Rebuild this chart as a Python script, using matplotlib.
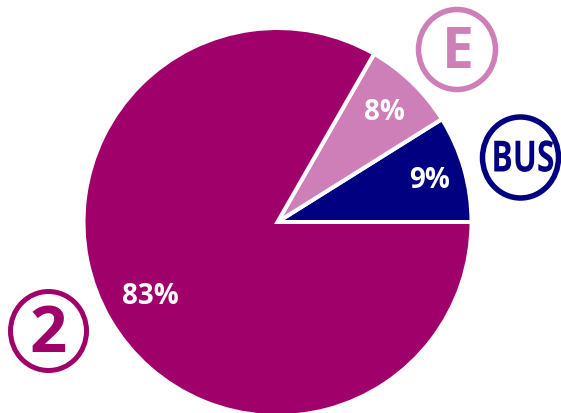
import matplotlib
matplotlib.use('Agg')
import matplotlib.pyplot as plt
from matplotlib.patches import Ellipse
from matplotlib.patheffects import AbstractPathEffect
from matplotlib.transforms import Affine2D

labels = ['BUS', 'E', '2']
shares = [8.9, 7.8, 83.3]
pct_labels = ['9%', '8%', '83%']
colors = ['#000080', '#CF7FB8', '#A0006A']

plt.rcParams['font.family'] = ['Open Sans', 'DejaVu Sans']

W, H = 561, 413
PX = 72 / 100  # points per pixel at dpi=100


class SqueezeX(AbstractPathEffect):
    # narrow the glyphs around a display x, no condensed font is installed
    def __init__(self, x0, factor):
        super().__init__()
        self.x0 = x0
        self.factor = factor

    def draw_path(self, renderer, gc, tpath, affine, rgbFace=None):
        squeeze = Affine2D().translate(-self.x0, 0).scale(self.factor, 1).translate(self.x0, 0)
        renderer.draw_path(gc, tpath, affine + squeeze, rgbFace)


fig = plt.figure(figsize=(W / 100, H / 100), dpi=100, facecolor='white')

# the pie sits underneath, overlay axes uses pixel coordinates
cx, cy, R = 277.5, 222, 194
pie_ax = fig.add_axes([(cx - R) / W, 1 - (cy + R) / H, 2 * R / W, 2 * R / H], zorder=1)
pie_ax.pie(shares, colors=colors, startangle=0, counterclock=True, radius=1,
           wedgeprops=dict(edgecolor='white', linewidth=4 * PX))
pie_ax.set_xlim(-1, 1)
pie_ax.set_ylim(-1, 1)

ax = fig.add_axes([0, 0, 1, 1], zorder=2)
ax.set_xlim(0, W)
ax.set_ylim(H, 0)
ax.axis('off')
ax.patch.set_alpha(0)

# percent labels
for (x, y), txt in zip([(429.5, 180), (384.5, 113), (150, 297)], pct_labels):
    ax.text(x, y, txt, color='white', fontsize=20, fontweight='bold',
            ha='center', va='center', zorder=5)

# round line badges: centre x, centre y, width, height, stroke px
badges = [(520.5, 157.5, 76, 81, 5.5, colors[0]),
          (457, 49.5, 77, 80, 5.5, colors[1]),
          (48.5, 331, 76, 79, 5, colors[2])]
for (bx, by, bw, bh, lw, col) in badges:
    ax.add_patch(Ellipse((bx, by), bw, bh, facecolor='white', edgecolor=col,
                         linewidth=lw * PX))

# text box stays inside the figure, the squeeze puts the glyphs round x=523
ax.text(519, 160, labels[0], color=colors[0], fontsize=31, fontweight='bold',
        ha='center', va='center', path_effects=[SqueezeX(534, 0.74)])
ax.text(457.5, 53, labels[1], color=colors[1], fontsize=41, fontweight='bold',
        ha='center', va='center')
ax.text(48.5, 336, labels[2], color=colors[2], fontsize=47, fontweight='bold',
        ha='center', va='center')

fig.savefig('out.png', dpi=100, facecolor='white')
